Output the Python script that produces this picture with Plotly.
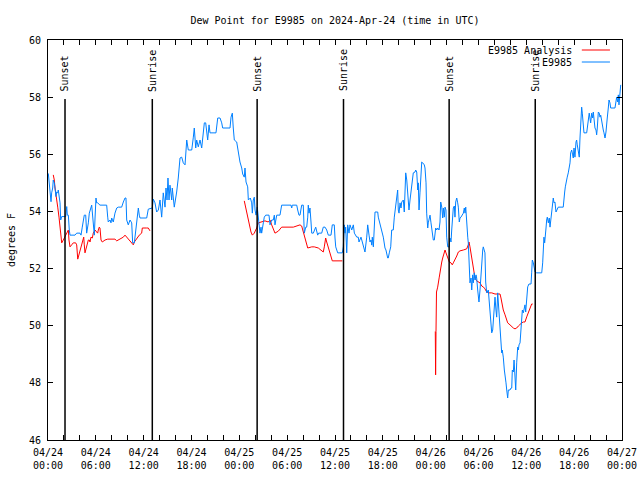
import pandas as pd
import plotly.graph_objects as go

START = "2024-04-24 00:00"
TITLE = "Dew Point for E9985 on 2024-Apr-24 (time in UTC)"

# E9985 observed dew point (hours since start, degrees F)
blue_hours = [
    0.04,0.13,0.25,0.38,0.46,0.59,0.66,0.79,0.88,1.0,
    1.09,1.22,1.29,1.38,1.51,1.59,1.72,2.22,2.35,2.42,
    2.55,2.67,2.76,3.39,3.6,4.01,4.14,4.3,4.43,4.55,
    4.73,4.85,5.06,5.18,5.48,5.68,5.81,5.9,6.02,6.1,
    6.23,6.52,7.36,7.49,7.56,7.78,7.9,7.99,8.19,8.4,
    8.62,8.82,9.24,9.45,9.66,9.78,9.87,10.07,10.29,10.5,
    10.62,10.83,10.91,11.04,11.13,11.33,11.45,11.54,12.38,12.58,
    13.08,13.21,13.42,13.63,13.84,14.05,14.26,14.46,14.68,14.8,
    14.93,15.05,15.18,15.3,15.52,15.59,15.84,16.02,16.14,16.34,
    16.56,16.77,16.97,17.19,17.27,17.4,17.6,18.03,18.23,18.35,
    18.53,18.65,18.85,19.07,19.28,19.48,19.61,19.78,19.91,20.03,
    20.2,20.32,21.07,21.29,21.58,21.79,21.91,22.83,22.96,23.12,
    23.24,23.37,23.67,23.87,24.08,24.3,24.42,24.62,24.71,24.84,
    25.05,25.13,25.38,25.55,25.63,25.75,25.88,25.97,26.09,26.25,
    26.38,26.47,26.59,26.72,26.8,27.01,27.13,27.31,27.72,27.85,
    28.06,28.26,28.39,28.47,28.56,28.69,29.1,29.31,30.48,30.57,
    30.64,31.2,31.32,31.48,31.61,31.74,31.82,32.02,32.15,32.33,
    32.45,32.58,32.65,32.74,32.86,32.99,33.08,33.28,33.4,33.58,
    33.83,33.95,34.33,34.53,34.75,34.96,35.16,35.5,35.66,35.91,
    36.0,36.09,36.34,36.92,37.04,37.17,37.26,37.34,37.47,37.59,
    37.76,37.88,38.1,38.3,38.43,38.6,38.73,38.92,39.01,39.26,
    39.43,39.55,39.68,39.76,39.98,40.1,40.27,40.39,40.52,40.61,
    40.68,40.81,41.02,41.36,41.43,41.65,41.86,42.06,42.27,42.39,
    42.61,42.68,42.81,42.99,43.11,43.31,43.44,43.53,43.74,43.86,
    43.94,44.03,44.16,44.28,44.37,44.57,44.69,44.78,44.87,45.0,
    45.12,45.2,45.28,45.41,45.53,45.62,45.82,46.04,46.12,46.25,
    46.38,46.45,46.54,46.66,46.79,46.88,47.0,47.2,47.29,47.42,
    47.5,47.63,47.7,47.83,47.92,48.04,48.21,48.33,48.46,48.54,
    48.63,48.76,48.88,49.05,49.17,49.26,49.39,49.51,49.59,49.71,
    49.8,49.92,50.01,50.14,50.3,50.43,50.55,50.64,50.77,50.84,
    50.97,51.05,51.14,51.27,51.39,51.47,51.59,51.68,51.8,52.1,
    52.22,52.31,52.4,52.52,52.65,52.72,52.81,52.93,53.06,53.15,
    53.27,53.35,53.47,53.56,53.69,53.77,53.9,54.06,54.19,54.31,
    54.4,54.53,54.6,54.73,54.81,54.9,55.03,55.23,55.35,55.44,
    55.57,55.66,55.78,55.91,55.98,56.07,56.19,56.28,56.41,56.48,
    56.57,56.7,56.82,56.91,56.98,57.11,57.24,57.33,57.45,57.54,
    57.66,57.74,57.95,58.08,58.17,58.24,58.37,58.46,58.58,58.67,
    58.79,58.92,59.0,59.08,59.21,59.33,59.5,59.62,59.75,59.83,
    59.92,60.05,60.17,60.33,60.59,60.67,60.75,60.88,61.0,61.09,
    61.3,61.93,62.05,62.13,62.21,62.3,62.38,62.47,62.55,62.63,
    62.76,62.88,62.97,63.1,63.18,63.31,63.38,63.47,63.59,63.72,
    63.8,63.93,64.0,64.63,64.72,64.81,64.89,64.98,65.06,65.13,
    65.26,65.39,65.48,65.56,65.69,65.81,65.89,65.98,66.1,66.23,
    66.31,66.39,66.51,66.64,66.73,66.81,66.94,67.02,67.14,67.23,
    67.57,67.64,67.77,67.89,67.98,68.07,68.2,68.32,68.4,68.49,
    68.61,68.74,68.82,68.9,69.03,69.15,69.24,69.33,69.45,69.58,
    69.65,69.74,69.87,69.99,70.08,70.15,70.28,70.37,70.49,70.58,
    71.12,71.25,71.33,71.46,71.54,71.62,71.75,71.84,
]
blue_values = [
    55.33,55.1,54.82,54.34,54.65,54.82,55.1,55.0,54.82,54.52,
    54.68,54.65,54.75,54.52,54.3,53.7,53.82,53.82,54.17,53.87,
    53.87,53.35,53.17,53.17,53.24,53.24,53.17,53.45,53.63,53.87,
    53.87,53.24,53.6,53.94,54.22,53.45,53.17,53.77,54.47,54.3,
    54.3,54.22,54.22,53.8,53.63,53.7,53.6,53.77,53.63,53.94,
    54.12,54.15,54.15,54.33,54.47,54.47,53.7,53.53,53.7,53.6,
    52.9,52.9,53.1,53.45,53.77,54.12,53.87,53.77,53.77,54.08,
    54.12,54.43,54.3,53.98,54.05,54.4,53.8,54.65,54.15,54.82,
    54.4,55.17,54.4,54.92,54.4,54.82,54.15,54.4,54.68,55.17,
    55.87,55.9,55.7,55.63,56.22,56.5,56.15,56.15,56.6,56.92,
    56.22,56.5,56.26,56.5,56.22,56.96,57.1,57.1,56.75,56.5,
    57.03,56.75,56.75,57.27,57.27,57.1,56.92,56.92,57.3,57.44,
    56.92,56.5,56.43,56.08,55.73,55.52,55.31,55.2,55.52,55.03,
    54.86,54.4,54.47,54.3,53.94,54.4,54.5,54.05,53.87,54.15,
    53.87,53.6,53.24,53.45,53.24,53.6,53.8,53.87,53.87,53.53,
    53.7,53.7,53.87,53.53,53.77,53.87,53.87,54.22,54.22,54.12,
    54.22,54.22,54.05,53.87,53.87,54.05,54.22,54.22,53.24,53.45,
    53.45,53.8,54.22,53.94,54.12,53.63,53.24,53.24,53.35,53.45,
    53.17,53.24,53.24,53.45,53.45,53.35,53.17,53.17,53.53,53.53,
    53.07,52.76,52.55,52.55,52.76,53.53,53.24,53.45,52.55,53.53,
    53.24,53.53,53.35,53.53,53.24,53.17,53.1,53.1,52.93,53.1,
    52.93,52.82,52.72,52.58,53.1,53.53,53.17,52.93,53.0,52.82,
    53.1,52.76,53.98,53.98,53.8,53.53,53.28,53.1,52.72,52.65,
    52.37,52.37,52.55,52.76,53.35,53.35,53.8,54.05,54.4,54.75,
    54.05,53.94,54.3,54.12,54.33,54.4,53.98,54.86,55.35,55.1,
    54.65,54.33,54.05,54.4,54.68,55.0,55.35,55.38,55.45,55.38,
    54.75,55.0,54.05,54.65,55.2,55.73,55.7,55.63,55.52,55.0,
    53.94,53.42,53.6,53.8,53.87,53.6,53.24,53.0,53.0,53.17,
    53.42,53.35,53.42,53.35,53.63,54.33,54.15,53.77,54.12,53.8,
    54.15,54.05,53.1,52.76,52.76,53.07,52.93,53.35,53.7,54.12,
    54.19,53.8,54.33,54.47,54.3,54.15,53.63,53.77,53.8,53.94,
    54.12,53.94,54.15,53.45,53.1,52.9,52.2,51.5,51.67,51.25,
    51.78,51.5,51.85,51.6,51.78,51.67,51.25,50.83,51.25,51.71,
    52.41,52.65,52.76,52.65,52.55,51.53,51.15,51.25,50.8,50.55,
    50.3,49.75,49.85,50.3,50.55,51.0,50.55,50.3,51.15,50.9,
    50.3,49.85,49.4,49.05,49.15,48.9,48.45,48.1,48.0,47.75,
    47.47,47.75,47.75,47.82,47.82,48.45,48.38,48.8,48.0,47.75,
    48.7,49.25,49.15,49.33,49.4,50.1,50.55,50.45,50.66,50.73,
    50.48,50.9,51.36,51.46,51.46,51.85,52.3,52.2,52.06,51.88,
    51.85,51.85,52.2,52.76,53.1,52.9,53.07,53.42,53.7,53.8,
    53.6,53.77,53.45,53.77,53.94,54.33,54.47,54.3,54.33,53.98,
    54.05,54.12,54.15,54.15,54.33,54.68,54.86,55.03,55.1,55.2,
    55.35,55.56,55.7,56.05,56.15,55.98,55.87,56.22,55.9,56.43,
    56.5,56.33,56.08,55.9,56.57,57.3,57.65,57.44,56.96,56.75,
    56.75,56.92,57.13,57.44,57.27,57.1,57.44,57.27,57.48,57.2,
    56.92,56.85,56.68,56.92,57.48,57.44,57.3,57.37,57.13,57.03,
    56.85,56.75,56.57,56.78,56.96,57.27,57.62,57.9,57.8,57.62,
    57.62,57.9,58.0,57.83,58.08,57.73,58.15,58.43,
]

# E9985 Analysis (hours since start, degrees F); None marks gaps
red_hours = [
    0.66,0.79,0.88,1.09,1.22,1.38,1.51,1.63,1.72,1.92,
    2.13,2.35,2.55,2.63,2.76,2.97,3.17,3.47,3.6,3.73,
    3.8,4.01,4.14,4.23,4.35,4.48,4.55,4.64,4.73,4.85,
    4.98,5.06,5.18,5.27,5.39,5.56,5.68,5.9,6.1,6.23,
    6.31,6.43,6.52,6.65,6.81,7.15,7.49,8.4,8.62,8.82,
    9.16,9.45,9.66,9.87,10.16,10.5,10.7,10.83,11.0,11.25,
    11.45,11.75,11.83,12.38,12.58,12.79,
    18.0,
    24.62,24.75,24.92,25.05,25.21,25.34,25.46,25.63,25.88,26.05,
    26.18,26.38,26.8,27.22,27.63,27.85,28.06,28.26,28.47,28.89,
    29.1,29.31,30.77,31.2,31.61,31.82,31.95,32.15,32.24,32.45,
    32.58,33.08,33.4,33.91,34.33,34.53,34.66,34.83,34.96,35.08,
    35.25,35.5,35.66,36.92,
    42.0,
    48.58,48.62,48.67,48.73,48.88,49.08,49.17,49.3,49.39,49.51,
    49.67,49.8,49.92,50.14,50.34,50.55,50.71,50.84,51.05,51.27,
    51.47,51.68,52.1,52.52,52.72,52.81,52.93,53.06,53.22,53.35,
    53.47,53.56,53.77,53.98,54.19,54.4,54.6,54.81,55.03,55.32,
    55.66,56.07,56.48,56.7,56.82,56.98,57.11,57.33,57.54,57.66,
    57.95,58.17,58.37,58.58,58.79,59.0,59.21,59.42,59.62,59.83,
    60.05,60.25,60.46,60.67,60.8,
]
red_values = [
    55.28,55.1,54.82,54.47,54.15,53.8,53.45,53.1,52.9,53.0,
    53.1,53.24,53.35,53.0,52.76,52.83,52.9,52.9,52.83,52.33,
    52.4,52.58,52.76,52.76,52.93,53.1,52.83,52.55,52.65,52.83,
    52.93,53.0,53.0,52.93,53.1,53.07,53.24,53.35,53.28,53.24,
    53.35,53.45,53.42,53.0,52.93,53.0,53.03,53.03,52.97,53.0,
    53.07,53.1,53.17,53.1,53.03,52.9,52.83,52.93,53.0,53.07,
    53.17,53.24,53.42,53.42,53.42,53.32,
    None,
    54.37,54.19,53.98,53.8,53.63,53.45,53.28,53.17,53.24,53.35,
    53.42,53.6,53.63,53.67,53.63,53.7,53.53,53.35,53.24,53.31,
    53.38,53.45,53.45,53.49,53.53,53.49,53.35,53.17,53.0,52.76,
    52.72,52.76,52.76,52.72,52.62,52.58,52.76,53.07,52.93,52.83,
    52.65,52.4,52.27,52.27,
    None,
    49.8,48.28,49.8,51.18,51.35,51.7,51.88,52.02,52.23,52.37,
    52.55,52.65,52.55,52.37,52.23,52.2,52.13,52.2,52.3,52.44,
    52.58,52.62,52.65,52.69,52.83,52.93,52.76,52.55,52.2,51.95,
    51.78,51.67,51.57,51.53,51.5,51.39,51.36,51.29,51.18,51.15,
    51.15,51.11,51.11,51.11,50.97,50.73,50.55,50.38,50.2,50.1,
    50.03,49.96,49.92,49.89,49.92,49.99,50.06,50.1,50.13,50.13,
    50.31,50.48,50.66,50.76,50.76,
]

# Sunset / sunrise events (UTC)
event_times = ["2024-04-24 02:08", "2024-04-24 13:05", "2024-04-25 02:14",
               "2024-04-25 13:04", "2024-04-26 02:19", "2024-04-26 13:07"]
event_labels = ["Sunset", "Sunrise", "Sunset", "Sunrise", "Sunset", "Sunrise"]

series_names = ["E9985 Analysis", "E9985"]
series_colors = ["#ff0000", "#0080ff"]

x_range = ["2024-04-24 00:00", "2024-04-27 00:00"]
y_range = [46, 60]

FONT = "DejaVu Sans Mono"


def to_times(hours):
    t0 = pd.Timestamp(START)
    return [t0 + pd.Timedelta(hours=h) for h in hours]


fig = go.Figure()
fig.add_trace(go.Scatter(x=to_times(red_hours), y=red_values, mode="lines",
                         name=series_names[0], connectgaps=False,
                         line=dict(color=series_colors[0], width=1)))
fig.add_trace(go.Scatter(x=to_times(blue_hours), y=blue_values, mode="lines",
                         name=series_names[1],
                         line=dict(color=series_colors[1], width=1)))

for t, lab in zip(event_times, event_labels):
    fig.add_shape(type="line", xref="x", yref="paper", x0=t, x1=t, y0=0, y1=0.8525,
                  line=dict(color="black", width=1.5))
    fig.add_annotation(x=t, y=0.866, xref="x", yref="paper", text=lab, textangle=-90,
                       showarrow=False, xanchor="center", yanchor="bottom",
                       font=dict(family=FONT, size=10, color="black"))

# custom legend (text right-aligned, sample line on the right)
leg_y = [0.975, 0.945]
for name, col, ly in zip(series_names, series_colors, leg_y):
    fig.add_annotation(x=0.9164, y=ly, xref="paper", yref="paper", text=name,
                       showarrow=False, xanchor="right", yanchor="middle",
                       font=dict(family=FONT, size=10, color="black"))
    fig.add_shape(type="line", xref="paper", yref="paper", x0=0.930, x1=0.979,
                  y0=ly, y1=ly, line=dict(color=col, width=1))

fig.update_layout(
    width=640, height=480,
    margin=dict(l=48, r=18, t=40, b=40),
    paper_bgcolor="white", plot_bgcolor="white",
    font=dict(family=FONT, size=10, color="black"),
    showlegend=False,
    title=dict(text=TITLE, x=0.5, xref="paper", xanchor="center",
               y=1 - 20 / 480, yref="container", yanchor="middle",
               font=dict(family=FONT, size=10, color="black")),
)
fig.update_xaxes(
    type="date", range=x_range, tick0=x_range[0], dtick=6 * 3600 * 1000,
    tickformat="%m/%d<br>%H:%M", ticks="inside", ticklen=5, tickcolor="black",
    showline=True, linecolor="black", linewidth=1, mirror="allticks",
    showgrid=False, zeroline=False, automargin=False, ticklabelstandoff=3,
    minor=dict(dtick=2 * 3600 * 1000, ticks="inside", ticklen=5, tickcolor="black",
               showgrid=False),
)
fig.update_yaxes(
    range=y_range, dtick=2, ticks="inside", ticklen=5, tickcolor="black",
    showline=True, linecolor="black", linewidth=1, mirror="allticks",
    showgrid=False, zeroline=False, ticklabelstandoff=4, automargin=False,
    title=dict(text="degrees F", standoff=11, font=dict(family=FONT, size=10)),
)

fig.write_html("out.html", config={"displayModeBar": False},
               post_script="document.body.style.margin='0';document.body.style.overflow='hidden';")
